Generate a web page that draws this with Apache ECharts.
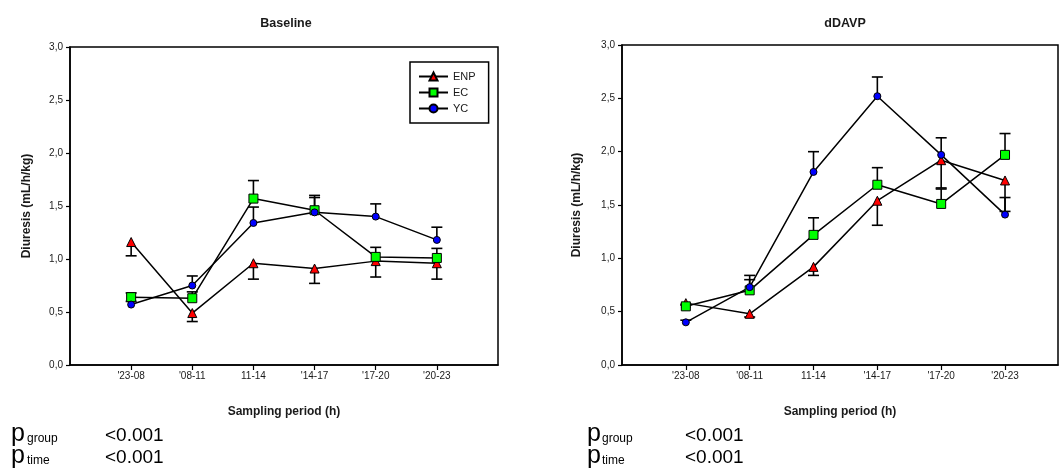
<!DOCTYPE html>
<html>
<head>
<meta charset="utf-8">
<script src="https://cdn.jsdelivr.net/npm/echarts@6/dist/echarts.min.js"></script>
<style>html,body{margin:0;padding:0;background:#fff;}#c{width:1060px;height:469px;}</style>
</head>
<body>
<div id="c"></div>
<script>
// ---- data ----
var categories = ["'23-08", "'08-11", "11-14", "'14-17", "'17-20", "'20-23"];
var yTicks = [0, 0.5, 1.0, 1.5, 2.0, 2.5, 3.0];

// Baseline
var baseENP = [1.16, 0.49, 0.96, 0.91, 0.98, 0.96];
var baseENPerr = [0.13, 0.08, 0.15, 0.14, 0.15, 0.15];   // drawn downward
var baseEC = [0.64, 0.63, 1.57, 1.46, 1.02, 1.01];
var baseECerr = [0.04, 0.06, 0.17, 0.12, 0.09, 0.09];     // drawn upward
var baseYC = [0.57, 0.75, 1.34, 1.44, 1.40, 1.18];
var baseYCerr = [0.03, 0.09, 0.15, 0.16, 0.12, 0.12];     // drawn upward

// dDAVP
var ddENP = [0.58, 0.48, 0.92, 1.54, 1.92, 1.73];
var ddENPerr = [0.02, 0.03, 0.08, 0.23, 0.26, 0.29];
var ddEC = [0.55, 0.70, 1.22, 1.69, 1.51, 1.97];
var ddECerr = [0.02, 0.10, 0.16, 0.16, 0.14, 0.20];
var ddYC = [0.40, 0.73, 1.81, 2.52, 1.97, 1.41];
var ddYCerr = [0.02, 0.11, 0.19, 0.18, 0.16, 0.16];

var pGroup = '<0.001';
var pTime = '<0.001';

// ---- chart ----
var catPos = categories.map(function (c, i) { return i + 1; });
function pts(vals) { return vals.map(function (v, i) { return [catPos[i], v]; }); }
function errPts(vals, errs) { return vals.map(function (v, i) { return [catPos[i], v, errs[i]]; }); }

var FONT = '"Liberation Sans", Arial, sans-serif';
var TXT = '#1a1a1a';

function errRender(dir) {
  return function (params, api) {
    var x = api.value(0), y = api.value(1), e = api.value(2);
    var p0 = api.coord([x, y]);
    var p1 = api.coord([x, y + dir * e]);
    var st = { stroke: '#000', lineWidth: 1.6 };
    return {
      type: 'group',
      children: [
        { type: 'line', shape: { x1: p0[0], y1: p0[1], x2: p1[0], y2: p1[1] }, style: st },
        { type: 'line', shape: { x1: p1[0] - 5.5, y1: p1[1], x2: p1[0] + 5.5, y2: p1[1] }, style: st }
      ]
    };
  };
}

var styles = {
  ENP: { symbol: 'triangle', symbolSize: 9, color: '#ff0000' },
  EC: { symbol: 'rect', symbolSize: 9, color: '#00ff00' },
  YC: { symbol: 'circle', symbolSize: 7, color: '#0000ff' }
};

function lineSeries(name, vals, idx) {
  var s = styles[name];
  return {
    name: name, type: 'line', xAxisIndex: idx, yAxisIndex: idx,
    data: pts(vals), symbol: s.symbol, symbolSize: s.symbolSize, showAllSymbol: true,
    lineStyle: { color: '#000', width: 1.5 },
    itemStyle: { color: s.color, borderColor: '#000', borderWidth: 1 },
    emphasis: { disabled: true }, animation: false, z: 3
  };
}
function errSeries(vals, errs, dir, idx) {
  return {
    type: 'custom', xAxisIndex: idx, yAxisIndex: idx,
    data: errPts(vals, errs), renderItem: errRender(dir), animation: false, z: 2, silent: true
  };
}

function xAxis(idx, max) {
  return {
    type: 'value', gridIndex: idx, min: 0, max: max,
    name: 'Sampling period (h)', nameLocation: 'middle', nameGap: 41,
    nameTextStyle: { fontFamily: FONT, fontWeight: 'bold', fontSize: 12, color: TXT },
    axisLine: { lineStyle: { color: '#000', width: 1.5 } },
    axisTick: { length: 5, lineStyle: { color: '#000', width: 1.2 }, customValues: catPos },
    axisLabel: { customValues: catPos, margin: 6, fontFamily: FONT, fontSize: 10, color: TXT,
      formatter: function (v) { return categories[Math.round(v) - 1] || ''; } },
    splitLine: { show: false }
  };
}
function yAxis(idx, gap) {
  return {
    type: 'value', gridIndex: idx, min: yTicks[0], max: yTicks[yTicks.length - 1], interval: 0.5,
    name: 'Diuresis (mL/h/kg)', nameLocation: 'middle', nameGap: gap,
    nameTextStyle: { fontFamily: FONT, fontWeight: 'bold', fontSize: 12, color: TXT },
    axisLine: { show: true, lineStyle: { color: '#000', width: 1.5 } },
    axisTick: { show: true, length: 4, lineStyle: { color: '#000', width: 1.2 } },
    axisLabel: { margin: 7, fontFamily: FONT, fontSize: 10, color: TXT,
      formatter: function (v) { return v.toFixed(1).replace('.', ','); } },
    splitLine: { show: false }
  };
}

function pText(x, baseline, txt, size) {
  return { type: 'text', x: x, y: baseline - 0.31 * size,
    style: { text: txt, font: size + 'px ' + FONT, fill: '#000', verticalAlign: 'middle', align: 'left' } };
}
function pBlock(x0, xs, xv) {
  return [
    pText(x0, 442, 'p', 25), pText(xs, 442, 'group', 12), pText(xv, 442, pGroup, 19),
    pText(x0, 464, 'p', 25), pText(xs, 464, 'time', 12), pText(xv, 464, pTime, 19)
  ];
}

var option = {
  backgroundColor: '#fff',
  animation: false,
  title: [
    { text: 'Baseline', left: 281, top: 12, textAlign: 'center',
      textStyle: { fontFamily: FONT, fontWeight: 'bold', fontSize: 12.5, color: TXT } },
    { text: 'dDAVP', left: 840, top: 12, textAlign: 'center',
      textStyle: { fontFamily: FONT, fontWeight: 'bold', fontSize: 12.5, color: TXT } }
  ],
  legend: {
    data: ['ENP', 'EC', 'YC'], orient: 'vertical', left: 410, top: 62,
    itemWidth: 29, itemHeight: 10, itemGap: 5,
    padding: [9, 13, 9, 8],
    borderColor: '#000', borderWidth: 1.5,
    textStyle: { fontFamily: FONT, fontSize: 11, color: TXT },
    selectedMode: false
  },
  grid: [
    { left: 70, top: 47, right: 562, bottom: 104, show: true, borderColor: '#000', borderWidth: 1.5, backgroundColor: 'transparent' },
    { left: 622, top: 45, right: 2, bottom: 104, show: true, borderColor: '#000', borderWidth: 1.5, backgroundColor: 'transparent' }
  ],
  xAxis: [xAxis(0, 7), xAxis(1, 6.83)],
  yAxis: [yAxis(0, 37), yAxis(1, 39)],
  series: [
    errSeries(baseENP, baseENPerr, -1, 0),
    errSeries(baseEC, baseECerr, 1, 0),
    errSeries(baseYC, baseYCerr, 1, 0),
    lineSeries('ENP', baseENP, 0),
    lineSeries('EC', baseEC, 0),
    lineSeries('YC', baseYC, 0),
    errSeries(ddENP, ddENPerr, -1, 1),
    errSeries(ddEC, ddECerr, 1, 1),
    errSeries(ddYC, ddYCerr, 1, 1),
    lineSeries('ENP', ddENP, 1),
    lineSeries('EC', ddEC, 1),
    lineSeries('YC', ddYC, 1)
  ],
  graphic: pBlock(11, 27, 105).concat(pBlock(587, 602, 685))
};

var chart = echarts.init(document.getElementById('c'), null, { renderer: 'canvas' });
chart.setOption(option);
</script>
</body>
</html>
